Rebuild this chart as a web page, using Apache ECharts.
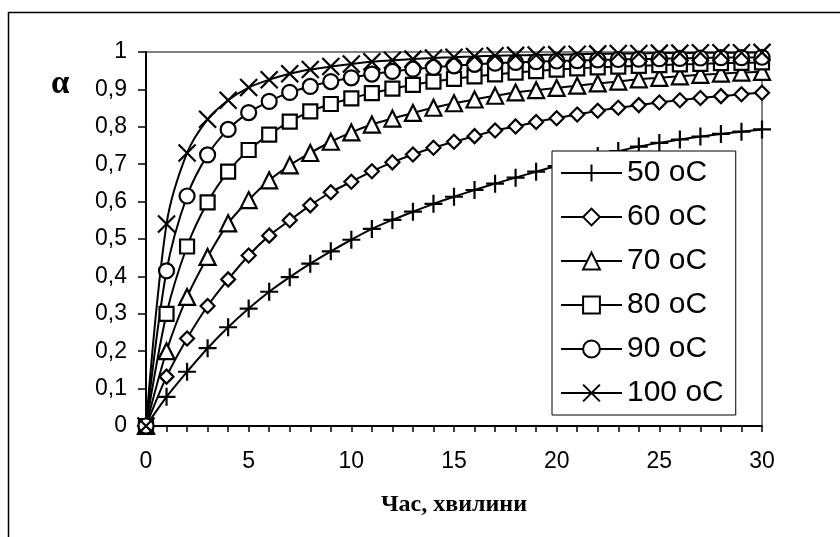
<!DOCTYPE html>
<html>
<head>
<meta charset="utf-8">
<title>α</title>
<script src="https://cdn.jsdelivr.net/npm/echarts@6/dist/echarts.min.js"></script>
<style>
  html, body { margin: 0; padding: 0; background: #fff; }
  #chart { width: 840px; height: 537px; }
</style>
</head>
<body>
<div id="chart"></div>
<script>
var times = [0, 1, 2, 3, 4, 5, 6, 7, 8, 9, 10, 11, 12, 13, 14, 15, 16, 17, 18, 19, 20,
    21, 22, 23, 24, 25, 26, 27, 28, 29, 30];
var seriesNames = ['50 oC', '60 oC', '70 oC', '80 oC', '90 oC', '100 oC'];
var alpha50 = [0, 0.078, 0.145, 0.208, 0.264, 0.314, 0.359, 0.398, 0.434, 0.467, 0.498,
    0.527, 0.551, 0.573, 0.594, 0.613, 0.631, 0.648, 0.664, 0.68, 0.695,
    0.709, 0.722, 0.735, 0.747, 0.757, 0.766, 0.774, 0.781, 0.787, 0.793];
var alpha60 = [0, 0.132, 0.234, 0.321, 0.392, 0.456, 0.509, 0.55, 0.59, 0.625, 0.653,
    0.681, 0.705, 0.726, 0.744, 0.76, 0.775, 0.79, 0.801, 0.813, 0.823,
    0.833, 0.843, 0.851, 0.858, 0.865, 0.871, 0.877, 0.882, 0.887, 0.891];
var alpha70 = [0, 0.2, 0.345, 0.452, 0.542, 0.604, 0.657, 0.697, 0.73, 0.76, 0.785,
    0.806, 0.822, 0.837, 0.851, 0.863, 0.873, 0.883, 0.892, 0.898, 0.904,
    0.91, 0.916, 0.921, 0.927, 0.931, 0.935, 0.939, 0.942, 0.945, 0.947];
var alpha80 = [0, 0.3, 0.48, 0.598, 0.68, 0.738, 0.779, 0.814, 0.841, 0.861, 0.876,
    0.89, 0.902, 0.912, 0.921, 0.928, 0.935, 0.94, 0.945, 0.949, 0.953,
    0.956, 0.959, 0.961, 0.963, 0.965, 0.967, 0.968, 0.97, 0.971, 0.972];
var alpha90 = [0, 0.415, 0.615, 0.725, 0.793, 0.838, 0.868, 0.892, 0.908, 0.921, 0.931,
    0.941, 0.948, 0.954, 0.959, 0.963, 0.967, 0.97, 0.972, 0.974, 0.976,
    0.977, 0.979, 0.98, 0.981, 0.982, 0.983, 0.984, 0.985, 0.985, 0.986];
var alpha100 = [0, 0.54, 0.73, 0.82, 0.871, 0.905, 0.926, 0.942, 0.953, 0.961, 0.968,
    0.974, 0.978, 0.981, 0.984, 0.986, 0.988, 0.99, 0.991, 0.992, 0.993,
    0.994, 0.995, 0.996, 0.996, 0.997, 0.997, 0.998, 0.998, 0.998, 0.999];
var yTickLabels = ['0', '0,1', '0,2', '0,3', '0,4', '0,5', '0,6', '0,7', '0,8', '0,9', '1'];
var xTickLabels = ['0', '5', '10', '15', '20', '25', '30'];

(function (window) {
    "use strict";
    var font = "'Liberation Sans', Arial, sans-serif";
    var plusPath = 'path://M0,5L10,5M5,0L5,10';
    var crossPath = 'path://M0,0L10,10M10,0L0,10';

    var pairs = function (values) {
        var out = [];
        for (var i = 0; i < times.length; i++) {
            out.push([times[i], values[i]]);
        }
        return out;
    };

    var make_series = function (name, values, symbol, size, fill) {
        return {
            name: name,
            type: 'line',
            smooth: 0.3,
            data: pairs(values),
            symbol: symbol,
            symbolSize: size,
            lineStyle: { color: '#000', width: 2 },
            itemStyle: { color: fill, borderColor: '#000', borderWidth: 2.2 },
            emphasis: { disabled: true }
        };
    };

    var load = function () {
        var chart = echarts.init(document.getElementById('chart'), null, { renderer: 'canvas' });
        var option = {
            animation: false,
            backgroundColor: '#fff',
            graphic: [{
                type: 'rect',
                shape: { x: 8.5, y: 12.5, width: 1000, height: 1000 },
                style: { fill: 'none', stroke: '#000', lineWidth: 1.5 },
                silent: true
            }, {
                type: 'text',
                left: 51,
                top: 68,
                style: {
                    text: 'α',
                    font: "bold 33px 'Liberation Serif', serif",
                    fill: '#000'
                },
                silent: true
            }],
            grid: {
                left: 146,
                top: 52,
                right: 78,
                bottom: 111,
                show: true,
                borderColor: '#808080',
                borderWidth: 2,
                backgroundColor: '#fff'
            },
            legend: {
                orient: 'vertical',
                left: 552,
                top: 151,
                backgroundColor: '#fff',
                borderColor: '#000',
                borderWidth: 1,
                borderRadius: 0,
                padding: [7, 12, 7, 8],
                itemGap: 14,
                itemWidth: 61,
                itemHeight: 21,
                selectedMode: false,
                data: seriesNames,
                textStyle: { fontFamily: font, fontSize: 30, color: '#000', lineHeight: 30 }
            },
            xAxis: {
                type: 'value',
                min: 0,
                max: 30,
                interval: 5,
                name: 'Час, хвилини',
                nameLocation: 'middle',
                nameGap: 67,
                nameTextStyle: {
                    fontFamily: "'Liberation Serif', 'Times New Roman', serif",
                    fontWeight: 'bold',
                    fontSize: 24,
                    color: '#000'
                },
                axisLine: { show: true, onZero: false, lineStyle: { color: '#000', width: 2 } },
                axisTick: { show: true, inside: false, length: 6, lineStyle: { color: '#000', width: 1.5 } },
                minorTick: { show: true, splitNumber: 5, length: 6, lineStyle: { color: '#000', width: 1.5 } },
                splitLine: { show: false },
                axisLabel: {
                    margin: 24,
                    fontFamily: font,
                    fontSize: 23,
                    color: '#000',
                    formatter: function (v) { return xTickLabels[Math.round(v / 5)]; }
                }
            },
            yAxis: {
                type: 'value',
                min: 0,
                max: 1,
                interval: 0.1,
                axisLine: { show: true, onZero: false, lineStyle: { color: '#000', width: 2 } },
                axisTick: { show: true, inside: false, length: 8, lineStyle: { color: '#000', width: 1.5 } },
                splitLine: { show: false },
                axisLabel: {
                    margin: 19,
                    fontFamily: font,
                    fontSize: 23,
                    color: '#000',
                    formatter: function (v) { return yTickLabels[Math.round(v * 10)]; }
                }
            },
            series: [
                make_series(seriesNames[0], alpha50, plusPath, 18, '#000'),
                make_series(seriesNames[1], alpha60, 'diamond', 14, '#fff'),
                make_series(seriesNames[2], alpha70, 'triangle', 16, '#fff'),
                make_series(seriesNames[3], alpha80, 'rect', 14, '#fff'),
                make_series(seriesNames[4], alpha90, 'circle', 15, '#fff'),
                make_series(seriesNames[5], alpha100, crossPath, 17, '#000')
            ]
        };
        chart.setOption(option);
    };

    window.addEventListener('load', load, false);
})(window);
</script>
</body>
</html>
